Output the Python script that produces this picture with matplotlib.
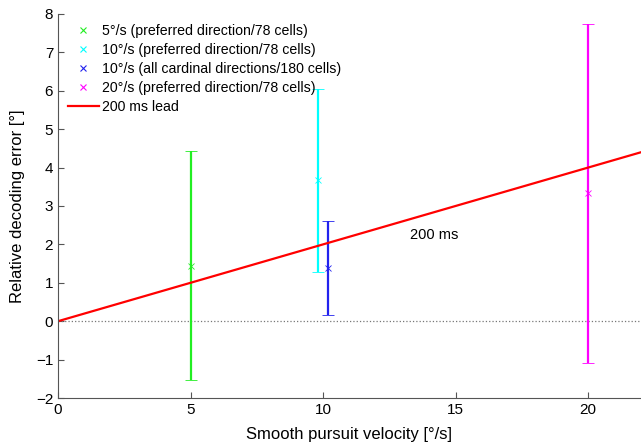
import numpy as np
import matplotlib
matplotlib.use("Agg")
import matplotlib.pyplot as plt
from matplotlib.lines import Line2D

plt.rcParams['font.family'] = ['Liberation Sans', 'DejaVu Sans']

# data
labels = ['5°/s (preferred direction/78 cells)',
          '10°/s (preferred direction/78 cells)',
          '10°/s (all cardinal directions/180 cells)',
          '20°/s (preferred direction/78 cells)']
xpos = [5, 9.8, 10.2, 20]
means = [1.45, 3.67, 1.38, 3.33]
upper = [4.42, 6.05, 2.60, 7.75]
lower = [-1.52, 1.28, 0.15, -1.10]
colors = ['#22ee22', '#00ffff', '#2222ee', '#ff00ff']
lead = 0.2  # 200 ms lead: error = velocity * 0.2 s

fig = plt.figure(figsize=(6.41, 4.46), dpi=100)
ax = fig.add_axes([58/641, 48/446, 583/641, 384/446])

ax.axhline(0, color='#777777', ls=':', lw=0.9)

handles = []
for x, m, u, l, c, lab in zip(xpos, means, upper, lower, colors, labels):
    ax.errorbar(x, m, yerr=[[m - l], [u - m]], fmt='x', ms=4, mew=0.6,
                color=c, ecolor=c, elinewidth=1.6, capsize=4, capthick=1.4)
    handles.append(Line2D([], [], ls='none', marker='x', ms=5, mew=0.8,
                          color=c, label=lab))

vx = np.array([0, 22])
ln, = ax.plot(vx, lead * vx, color='red', lw=1.6, label='200 ms lead')
handles.append(ln)
ax.text(13.3, 2.25, '200 ms', fontsize=10.5, va='center')

ax.set_xlim(0, 22)
ax.set_ylim(-2, 8)
ax.set_xticks([0, 5, 10, 15, 20])
ax.set_yticks(range(-2, 9))
ax.set_yticklabels(['\u22122', '\u22121', '0', '1', '2', '3', '4', '5', '6', '7', '8'])
ax.tick_params(labelsize=11, direction='in', length=4, color='#555555')
ax.spines['top'].set_visible(False)
ax.spines['right'].set_visible(False)
ax.spines['left'].set_color('#555555')
ax.spines['bottom'].set_color('#555555')

ax.set_xlabel('Smooth pursuit velocity [°/s]', fontsize=12, labelpad=7)
ax.set_ylabel('Relative decoding error [°]', fontsize=12, labelpad=8)

ax.legend(handles=handles, loc='upper left', frameon=False, fontsize=10.2,
          handlelength=2.2, labelspacing=0.35, borderaxespad=0.4,
          handletextpad=0.2, borderpad=0.3)

fig.savefig('out.png', dpi=100)
